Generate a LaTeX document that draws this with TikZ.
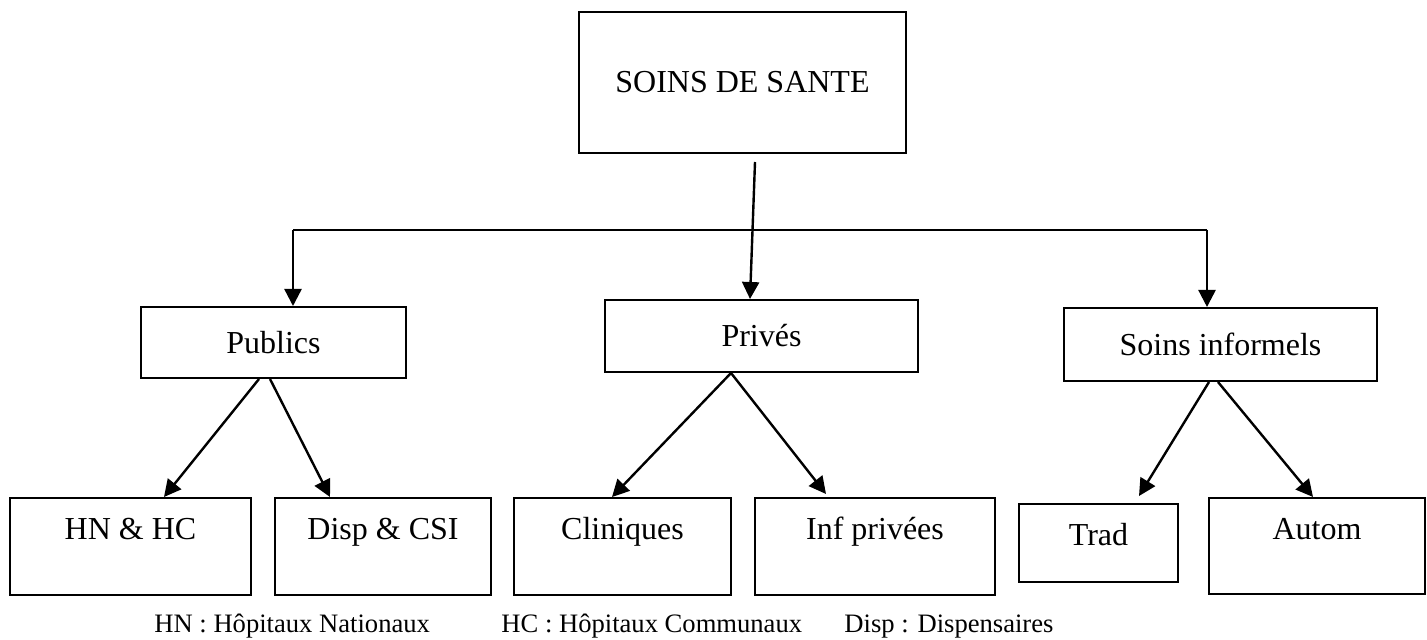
\documentclass[tikz,border=0pt]{standalone}
\usepackage{fontspec}
\setmainfont{Liberation Serif}
\usetikzlibrary{arrows.meta}

\begin{document}
\begin{tikzpicture}[x=0.5pt,y=-0.5pt,
  box/.style={draw=black, line width=1pt, anchor=north west, inner sep=0pt,
    font=\fontsize{16}{19}\selectfont},
  leaf/.style={box, text height=20.5pt},
  arr/.style={line width=1.2pt, -{Triangle[length=8.5pt,width=8.5pt]}},
  legend/.style={anchor=base west, inner sep=0pt, font=\fontsize{13.3}{16}\selectfont}]
\useasboundingbox (0,0) rectangle (1427,640);
% top level
\node[box, minimum width=163.5pt, minimum height=70.5pt] (sante) at (578,11) {SOINS DE SANTE};
% second level
\node[box, minimum width=132.5pt, minimum height=35.5pt] (publics) at (140,306) {Publics};
\node[box, minimum width=156.5pt, minimum height=36pt] (prives) at (604,299) {Privés};
\node[box, minimum width=156.5pt, minimum height=36.5pt] (informels) at (1063,307) {Soins informels};
% third level
\node[leaf, minimum width=120.5pt, text depth=28pt] (hnhc) at (9,497) {HN \& HC};
\node[leaf, minimum width=108pt, text depth=28pt] (disp) at (274,497) {Disp \& CSI};
\node[leaf, minimum width=108.5pt, text depth=28pt] (cliniques) at (513,497) {Cliniques};
\node[leaf, minimum width=120pt, text depth=28pt] (infpriv) at (754,497) {Inf privées};
\node[leaf, minimum width=79.5pt, text depth=18.5pt] (trad) at (1018,503) {Trad};
\node[leaf, minimum width=108pt, text depth=27.5pt] (autom) at (1208,497) {Autom};
% connectors
\coordinate (busL) at (293,230);
\coordinate (busR) at (1207,230);
\draw[line width=1.2pt] (busL) -- (busR);
\draw[arr] (busL) -- (busL |- publics.north);
\draw[arr] (busR) -- (busR |- informels.north);
\draw[arr] ([shift={(12.5,8)}]sante.south) -- ([shift={(-11.5,0)}]prives.north);
\draw[arr] ([shift={(-14.5,0)}]publics.south) -- ([shift={(33.5,0)}]hnhc.north);
\draw[arr] ([shift={(-3.5,0)}]publics.south) -- ([shift={(-53,0)}]disp.north);
\draw[arr] ([shift={(-30.5,0)}]prives.south) -- ([shift={(-10.5,0)}]cliniques.north);
\draw[arr] ([shift={(-30.5,0)}]prives.south) -- ([shift={(-49,-3)}]infpriv.north);
\draw[arr] ([shift={(-11.5,0)}]informels.south) -- ([shift={(40.5,-7)}]trad.north);
\draw[arr] ([shift={(-2.5,0)}]informels.south) -- ([shift={(-4,0)}]autom.north);
% legend
\node[legend] (lhn) at (154,632) {HN : Hôpitaux Nationaux};
\node[legend] (lhc) at (501,632) {HC : Hôpitaux Communaux};
\node[legend] (ldisp) at (844,632) {Disp : Dispensaires};
\end{tikzpicture}
\end{document}
